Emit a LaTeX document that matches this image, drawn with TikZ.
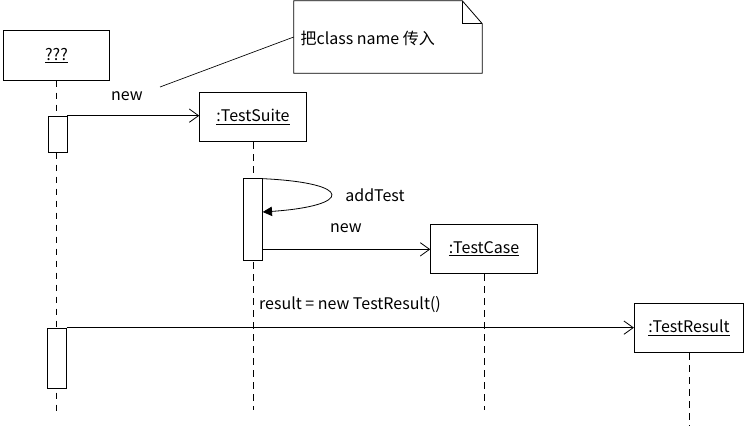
\documentclass[tikz,border=0pt]{standalone}
\usepackage{fontspec}
\setmainfont{Noto Sans CJK SC}
\usetikzlibrary{positioning,arrows.meta,calc}

\begin{document}
\begin{tikzpicture}[
  x=0.75pt,y=-0.75pt,
  objbox/.style={draw=black,line width=0.6pt,fill=white,inner sep=0pt,minimum width=80pt,minimum height=37pt,font=\fontsize{12}{14}\selectfont},
  actbox/.style={draw=black,line width=0.5pt,fill=white,inner sep=0pt,minimum width=14pt},
  lifeline/.style={line width=0.5pt,dash pattern=on 5pt off 4pt},
  msg/.style={-{Straight Barb[length=7pt,width=10pt]},line width=0.6pt},
  selfmsg/.style={-{Triangle[length=7pt,width=7pt]},line width=0.6pt},
  lbl/.style={inner sep=1pt,font=\fontsize{12}{14}\selectfont}
]
\useasboundingbox (0,0) rectangle (747,428);

% objects
\node[objbox] (unknown) at (56.5,55.5) {\underline{???}};
\node[objbox] (suite) at (253,117) {\underline{:TestSuite}};
\node[objbox] (tcase) at (484,249) {\underline{:TestCase}};
\node[objbox,minimum width=82pt] (tresult) at (689,328) {\underline{:TestResult}};

% lifelines
\draw[lifeline] (unknown.south) -- ++(0,335);
\draw[lifeline] (suite.south) -- ++(0,268);
\draw[lifeline] (tcase.south) -- ++(0,136);
\draw[lifeline] (tresult.south) -- ++(0,73);

% activations
\node[actbox,minimum height=27pt] (act1) at (57.5,134) {};
\node[actbox,minimum height=61.5pt] (act2) at (253,219) {};
\node[actbox,minimum height=45pt] (act3) at (57,358) {};

% messages
\draw[msg] (act1.north east) -- (act1.north east -| suite.west);
\node[lbl] (new1) at (127,96) {new};
\draw[selfmsg] ($(act2.north east)+(0,1)$) .. controls (355,183) and (352,206) .. ($(act2.east)+(0,-7)$);
\node[lbl] (addtest) at (375,195) {addTest};
\coordinate (newcase) at ($(act2.south east)+(0,-11)$);
\draw[msg] (newcase) -- (newcase -| tcase.west);
\node[lbl] (new2) at (346,228) {new};
\draw[msg] (act3.north east) -- (act3.north east -| tresult.west);
\node[lbl] (resultlbl) at (350,305) {result = new TestResult()};

% note
\node[minimum width=141pt,minimum height=54pt,inner sep=0pt] (note) at (388,37) {};
\draw[line width=0.6pt] (note.north west) -- ($(note.north east)+(-20,0)$) -- ($(note.north east)+(0,23)$) -- (note.south east) -- (note.south west) -- cycle;
\draw[line width=0.6pt] ($(note.north east)+(-20,0)$) |- ($(note.north east)+(0,23)$);
\node[lbl,anchor=west] (notetext) at (299,38) {把class name 传入};
\coordinate (notetail) at (160,87);
\draw[line width=0.5pt] (notetail) -- (note.west);
\end{tikzpicture}
\end{document}
